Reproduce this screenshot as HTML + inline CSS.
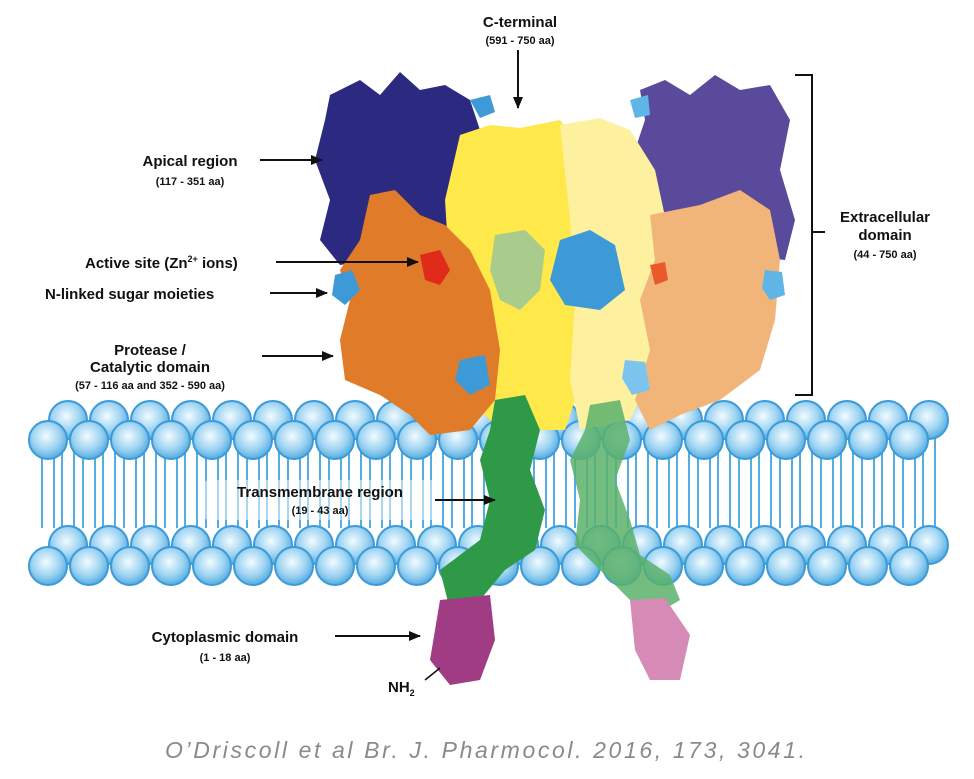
<!DOCTYPE html>
<html><head><meta charset="utf-8"><style>
body{margin:0;background:#fff;width:974px;height:779px;overflow:hidden;font-family:"Liberation Sans",sans-serif}
svg{position:absolute;left:0;top:0}
.l{font-weight:bold;font-size:15px;fill:#111}
.s{font-weight:bold;font-size:11px;fill:#111}
</style></head><body>
<svg width="974" height="779" viewBox="0 0 974 779">
<defs>
<radialGradient id="hg" cx="45%" cy="40%" r="60%"><stop offset="0" stop-color="#f2fbff"/><stop offset="0.6" stop-color="#9fd4f2"/><stop offset="1" stop-color="#55ace0"/></radialGradient>
<marker id="ar" markerUnits="userSpaceOnUse" markerWidth="12" markerHeight="10" refX="11" refY="5" orient="auto"><path d="M0,0 L12,5 L0,10 z" fill="#111"/></marker>
</defs>
<g id="mem"></g>
<path d="M330,95 L360,80 L380,95 L400,72 L420,90 L445,85 L470,100 L480,130 L470,180 L450,230 L400,255 L340,265 L320,240 L330,200 L315,160 L325,120 Z" fill="#2b2a80"/>
<path d="M640,90 L665,80 L690,95 L715,75 L740,90 L770,85 L790,120 L780,170 L795,220 L785,260 L740,255 L680,240 L650,200 L635,150 L645,120 Z" fill="#5a4a9c"/>
<path d="M460,135 L490,125 L520,128 L560,120 L575,140 L580,200 L575,260 L580,330 L575,400 L565,430 L500,430 L470,400 L455,340 L450,280 L445,200 Z" fill="#ffe84a"/>
<path d="M560,125 L600,118 L630,130 L655,170 L670,240 L660,320 L650,380 L630,420 L580,430 L570,380 L575,300 L570,220 Z" fill="#fdf1a0"/>
<path d="M370,195 L395,190 L420,215 L445,225 L470,250 L490,290 L500,350 L495,400 L470,430 L430,435 L410,415 L380,395 L345,380 L340,340 L350,300 L340,270 L360,240 Z" fill="#e07b2a"/>
<path d="M650,215 L700,205 L740,190 L770,210 L780,260 L775,320 L760,370 L720,400 L680,415 L650,430 L635,400 L650,350 L640,300 L655,260 Z" fill="#f1b57a"/>
<path d="M495,235 L525,230 L545,250 L540,290 L520,310 L500,300 L490,270 Z" fill="#a9cc8c"/>
<path d="M560,240 L590,230 L615,245 L625,290 L600,310 L565,305 L550,280 Z" fill="#3d9ad6"/>
<path d="M420,255 L440,250 L450,270 L440,285 L425,280 Z" fill="#e02a1a"/>
<path d="M650,265 L665,262 L668,280 L655,285 Z" fill="#e85a2a"/>
<path d="M335,275 L352,270 L360,290 L345,305 L332,295 Z" fill="#3d9ad6"/>
<path d="M765,270 L782,272 L785,295 L770,300 L762,288 Z" fill="#5fb6e6"/>
<path d="M470,100 L490,95 L495,112 L480,118 Z" fill="#3d9ad6"/>
<path d="M630,100 L648,95 L650,115 L635,118 Z" fill="#5fb6e6"/>
<path d="M460,360 L485,355 L490,385 L470,395 L455,380 Z" fill="#3d9ad6"/>
<path d="M625,360 L645,362 L650,390 L632,395 L622,378 Z" fill="#7cc4ee"/>
<path d="M495,400 L525,395 L540,430 L530,470 L545,510 L535,550 L505,570 L480,600 L450,610 L440,570 L480,540 L490,500 L480,460 L490,430 Z" fill="#2e9a48"/>
<path d="M590,405 L620,400 L630,440 L615,480 L630,520 L640,555 L670,575 L680,600 L655,615 L630,600 L600,570 L575,545 L580,500 L570,460 L585,430 Z" fill="#5bb26a" opacity="0.85"/>
<path d="M440,600 L490,595 L495,640 L480,680 L450,685 L430,660 L435,630 Z" fill="#a03c84"/>
<path d="M630,600 L665,598 L690,635 L680,680 L650,680 L635,650 Z" fill="#d68ab6"/>
<text class="l" x="520" y="27" text-anchor="middle">C-terminal</text>
<text class="s" x="520" y="44" text-anchor="middle">(591 - 750 aa)</text>
<line x1="518" y1="50" x2="518" y2="108" stroke="#111" stroke-width="2" marker-end="url(#ar)"/>
<text class="l" x="190" y="166" text-anchor="middle">Apical region</text>
<text class="s" x="190" y="185" text-anchor="middle">(117 - 351 aa)</text>
<line x1="260" y1="160" x2="322" y2="160" stroke="#111" stroke-width="2" marker-end="url(#ar)"/>
<text class="l" x="85" y="268">Active site (Zn<tspan font-size="9" dy="-6">2+</tspan><tspan dy="6"> ions)</tspan></text>
<line x1="276" y1="262" x2="418" y2="262" stroke="#111" stroke-width="2" marker-end="url(#ar)"/>
<text class="l" x="45" y="299">N-linked sugar moieties</text>
<line x1="270" y1="293" x2="327" y2="293" stroke="#111" stroke-width="2" marker-end="url(#ar)"/>
<text class="l" x="150" y="355" text-anchor="middle">Protease /</text>
<text class="l" x="150" y="372" text-anchor="middle">Catalytic domain</text>
<text class="s" x="150" y="389" text-anchor="middle">(57 - 116 aa and 352 - 590 aa)</text>
<line x1="262" y1="356" x2="333" y2="356" stroke="#111" stroke-width="2" marker-end="url(#ar)"/>
<path d="M795,75 L812,75 L812,395 L795,395 M812,232 L825,232" fill="none" stroke="#111" stroke-width="2"/>
<text class="l" x="885" y="222" text-anchor="middle">Extracellular</text>
<text class="l" x="885" y="240" text-anchor="middle">domain</text>
<text class="s" x="885" y="258" text-anchor="middle">(44 - 750 aa)</text>
<rect x="200" y="480" width="240" height="40" fill="#fff" opacity="0.5" rx="10"/>
<text class="l" x="320" y="497" text-anchor="middle">Transmembrane region</text>
<text class="s" x="320" y="514" text-anchor="middle">(19 - 43 aa)</text>
<line x1="435" y1="500" x2="495" y2="500" stroke="#111" stroke-width="2" marker-end="url(#ar)"/>
<text class="l" x="225" y="642" text-anchor="middle">Cytoplasmic domain</text>
<text class="s" x="225" y="661" text-anchor="middle">(1 - 18 aa)</text>
<line x1="335" y1="636" x2="420" y2="636" stroke="#111" stroke-width="2" marker-end="url(#ar)"/>
<text class="l" x="388" y="692">NH<tspan font-size="9" dy="4">2</tspan></text>
<line x1="425" y1="680" x2="440" y2="668" stroke="#111" stroke-width="1.5"/>
<text x="165" y="758" font-size="23" font-style="italic" fill="#8a8a8a" textLength="640" lengthAdjust="spacing">O’Driscoll et al Br. J. Pharmocol. 2016, 173, 3041.</text>
</svg>
<script>
var g=document.getElementById('mem'),h='';
for(var x=48;x<950;x+=41){
 h+='<line x1="'+(x-6)+'" y1="458" x2="'+(x-6)+'" y2="528" stroke="#55ace0" stroke-width="2"/><line x1="'+(x+6)+'" y1="458" x2="'+(x+6)+'" y2="528" stroke="#55ace0" stroke-width="2"/>';
 h+='<line x1="'+(x+14)+'" y1="438" x2="'+(x+14)+'" y2="545" stroke="#55ace0" stroke-width="2"/><line x1="'+(x+26)+'" y1="438" x2="'+(x+26)+'" y2="545" stroke="#55ace0" stroke-width="2"/>';
}
var c=function(x,y){return '<circle cx="'+x+'" cy="'+y+'" r="19" fill="url(#hg)" stroke="#3b9ad8" stroke-width="2"/>';};
for(var x=68;x<950;x+=41){h+=c(x,420)+c(x,545);}
for(var x=48;x<950;x+=41){h+=c(x,440)+c(x,566);}
g.innerHTML=h;
</script>
</body></html>
